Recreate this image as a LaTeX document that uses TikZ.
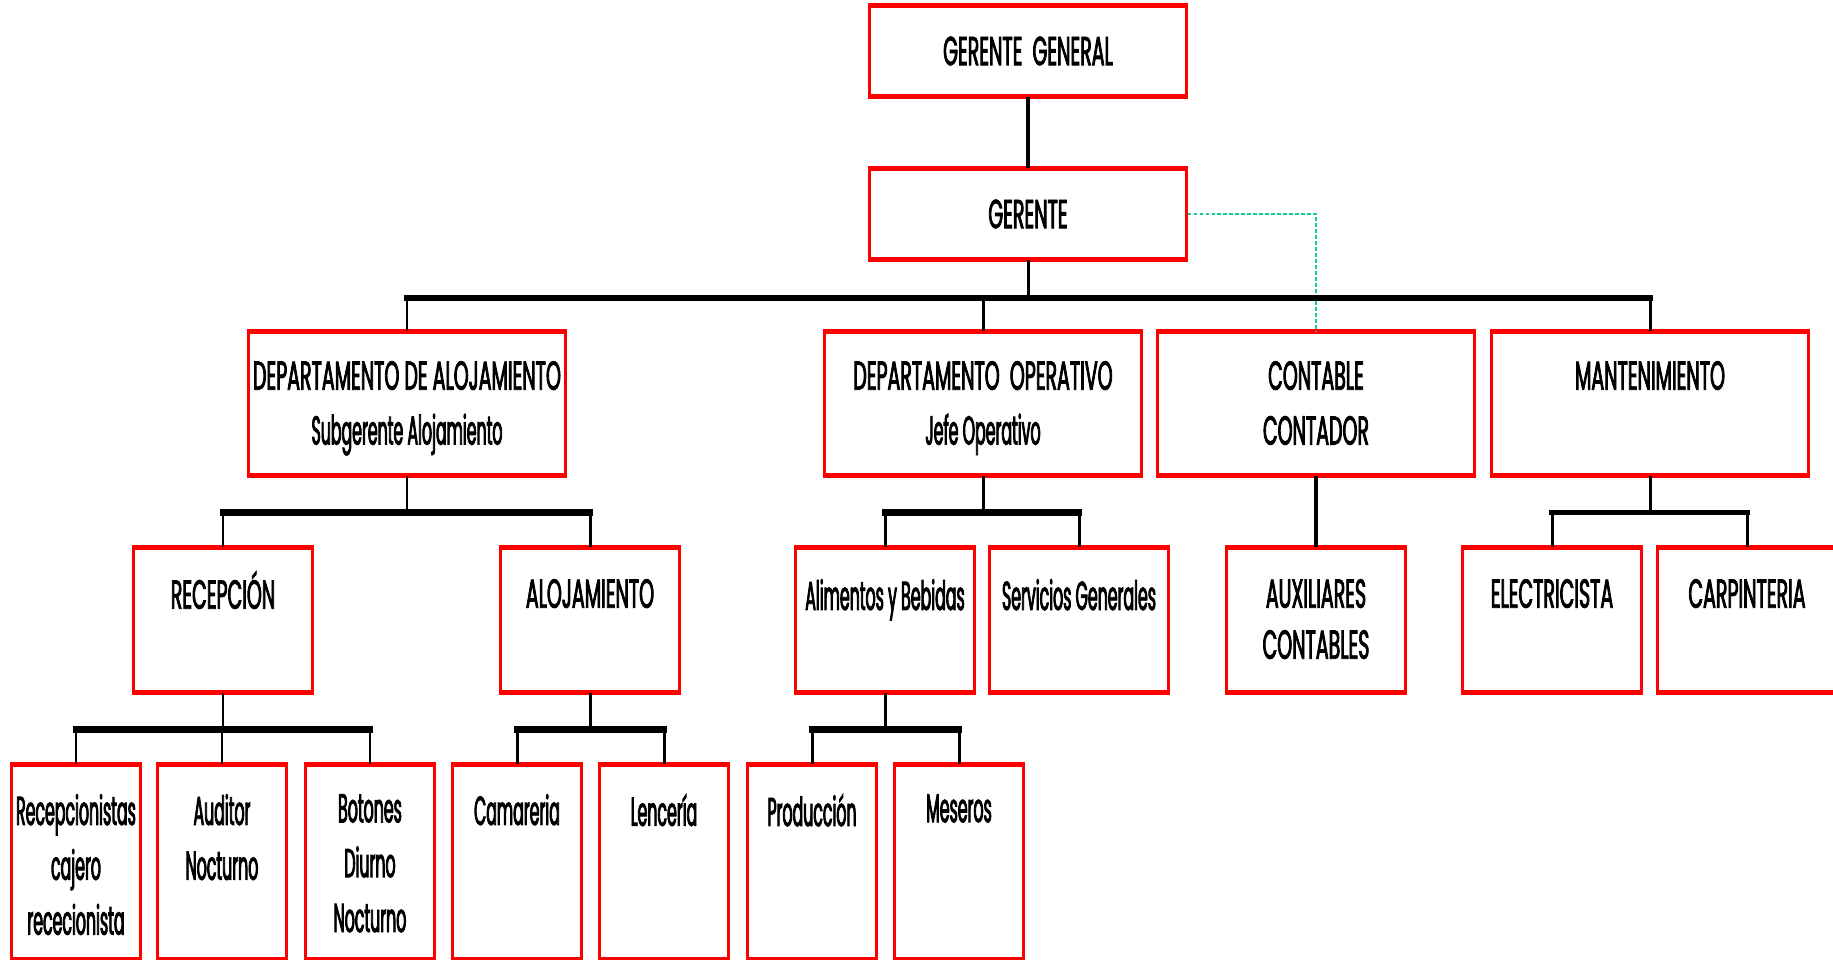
\documentclass[tikz,border=0pt]{standalone}
\usepackage{fontspec}
\setmainfont{Poppins}[FakeStretch=0.47, FakeBold=2]
\newfontfamily\lcfont{Poppins}[FakeStretch=0.39, FakeBold=2]
\usetikzlibrary{calc,positioning}
\definecolor{boxred}{RGB}{255,0,0}
\definecolor{dotgreen}{RGB}{20,205,150}

\tikzset{
  unit/.style={draw=boxred, line width=0.85pt, fill=white, inner sep=0pt},
  lvone/.style={unit, minimum width=3.16cm, minimum height=0.88cm, font=\fontsize{11.5}{15.6}\selectfont},
  lvtwo/.style={unit, minimum width=3.16cm, minimum height=1.41cm},
  lvthree/.style={unit, minimum width=1.78cm, minimum height=1.42cm},
  lvfour/.style={unit, minimum width=1.29cm, minimum height=1.92cm},
  lbl/.style={font=\fontsize{11.5}{15.6}\selectfont, align=center, inner sep=0pt, anchor=north},
  lcl/.style={lbl, font=\fontsize{11.5}{15.6}\selectfont\lcfont},
  rededge/.style={draw=boxred, line width=1.6pt},
  bus/.style={line width=1.9pt, line cap=rect},
  drop/.style={line width=0.85pt},
  dotline/.style={draw=dotgreen, line width=0.6pt, dash pattern=on 1.1pt off 0.6pt},
}

\begin{document}
\begin{tikzpicture}[x=0.01cm, y=-0.01cm]
  \useasboundingbox (0,0) rectangle (1833,959);
  \clip (0,0) rectangle (1833,959);

  % Top management
  \node[lvone] (ggen) at (1028,51) {GERENTE\ \ GENERAL};
  \node[lvone] (ger) at (1028,214) {GERENTE};

  % Departments
  \node[lvtwo] (dalo) at (407,403.5) {};
  \node[lvtwo] (dope) at (983,403.5) {};
  \node[lvtwo] (cont) at (1316,403.5) {};
  \node[lvtwo] (mant) at (1650,403.5) {};
  \node[lbl] (dalo-t) at ($(dalo.north)+(0,29)$) {DEPARTAMENTO DE ALOJAMIENTO\\\lcfont Subgerente Alojamiento};
  \node[lbl] (dope-t) at ($(dope.north)+(0,29)$) {DEPARTAMENTO\ \ OPERATIVO\\\lcfont Jefe Operativo};
  \node[lbl] (cont-t) at ($(cont.north)+(0,29)$) {CONTABLE\\CONTADOR};
  \node[lbl] (mant-t) at ($(mant.north)+(0,29)$) {MANTENIMIENTO};

  % Areas
  \node[lvthree] (recep) at (223,620) {};
  \node[lvthree] (aloj) at (590,620) {};
  \node[lvthree] (alim) at (885,620) {};
  \node[lvthree] (serv) at (1079,620) {};
  \node[lvthree] (aux) at (1316,620) {};
  \node[lvthree] (elec) at (1552,620) {};
  \node[lvthree] (carp) at (1747,620) {};
  \node[lbl] (recep-t) at ($(recep.north)+(0,23)$) {RECEPCIÓN};
  \node[lbl] (aloj-t) at ($(aloj.north)+(0,31)$) {ALOJAMIENTO};
  \node[lcl] (alim-t) at ($(alim.north)+(0,31)$) {Alimentos y Bebidas};
  \node[lcl] (serv-t) at ($(serv.north)+(0,31)$) {Servicios Generales};
  \node[lbl, font=\fontsize{11.5}{14.5}\selectfont] (aux-t) at ($(aux.north)+(0,31)$) {AUXILIARES\\CONTABLES};
  \node[lbl] (elec-t) at ($(elec.north)+(0,31)$) {ELECTRICISTA};
  \node[lbl] (carp-t) at ($(carp.north)+(0,31)$) {CARPINTERIA};

  % Staff
  \node[lvfour] (recp) at (76,862) {};
  \node[lvfour] (audi) at (222,862) {};
  \node[lvfour] (boto) at (370,862) {};
  \node[lvfour] (cama) at (517,862) {};
  \node[lvfour] (lenc) at (664,862) {};
  \node[lvfour] (prod) at (812,862) {};
  \node[lvfour] (mese) at (959,862) {};
  \node[lcl] (recp-t) at ($(recp.north)+(0,29)$) {Recepcionistas\\cajero\\rececionista};
  \node[lcl] (audi-t) at ($(audi.north)+(0,29)$) {Auditor\\Nocturno};
  \node[lcl] (boto-t) at ($(boto.north)+(0,29)$) {Botones\\Diurno\\Nocturno};
  \node[lcl] (cama-t) at ($(cama.north)+(0,29)$) {Camareria};
  \node[lcl] (lenc-t) at ($(lenc.north)+(0,29)$) {Lencería};
  \node[lcl] (prod-t) at ($(prod.north)+(0,29)$) {Producción};
  \node[lcl] (mese-t) at ($(mese.north)+(0,29)$) {Meseros};

  % thick top and bottom edges
  \foreach \n in {ggen,ger,dalo,dope,cont,mant,recep,aloj,alim,serv,aux,elec,carp,recp,audi,boto,cama,lenc,prod,mese}
    \draw[rededge] (\n.north west) -- (\n.north east) (\n.south west) -- (\n.south east);

  % Connectors
  \draw[line width=1.1pt] (ggen) -- (ger);
  \draw[dotline] (ger.east) -| (cont.north);

  \coordinate (b1) at ($(ger.south)+(0,38)$);
  \draw[drop] (ger.south) -- (b1);
  \draw[bus, line width=1.7pt] (dalo.north |- b1) -- (mant.north |- b1);
  \foreach \n in {dalo,dope,mant}
    \draw[drop] (\n.north |- b1) -- (\n.north);

  \coordinate (b2) at ($(dalo.south)+(0,37)$);
  \draw[drop] (dalo.south) -- (b2);
  \draw[bus] (recep.north |- b2) -- (aloj.north |- b2);
  \foreach \n in {recep,aloj}
    \draw[drop] (\n.north |- b2) -- (\n.north);

  \coordinate (b3) at ($(dope.south)+(0,37)$);
  \draw[drop] (dope.south) -- (b3);
  \draw[bus] (alim.north |- b3) -- (serv.north |- b3);
  \foreach \n in {alim,serv}
    \draw[drop] (\n.north |- b3) -- (\n.north);

  \draw[line width=1.1pt] (cont) -- (aux);

  \coordinate (b4) at ($(mant.south)+(0,37)$);
  \draw[drop] (mant.south) -- (b4);
  \draw[bus, line width=1.5pt] (elec.north |- b4) -- (carp.north |- b4);
  \foreach \n in {elec,carp}
    \draw[drop] (\n.north |- b4) -- (\n.north);

  \coordinate (b5) at ($(recep.south)+(0,37)$);
  \draw[drop] (recep.south) -- (b5);
  \draw[bus] (recp.north |- b5) -- (boto.north |- b5);
  \foreach \n in {recp,audi,boto}
    \draw[drop] (\n.north |- b5) -- (\n.north);

  \coordinate (b6) at ($(aloj.south)+(0,37)$);
  \draw[drop] (aloj.south) -- (b6);
  \draw[bus] (cama.north |- b6) -- (lenc.north |- b6);
  \foreach \n in {cama,lenc}
    \draw[drop] (\n.north |- b6) -- (\n.north);

  \coordinate (b7) at ($(alim.south)+(0,37)$);
  \draw[drop] (alim.south) -- (b7);
  \draw[bus] (prod.north |- b7) -- (mese.north |- b7);
  \foreach \n in {prod,mese}
    \draw[drop] (\n.north |- b7) -- (\n.north);
\end{tikzpicture}
\end{document}
